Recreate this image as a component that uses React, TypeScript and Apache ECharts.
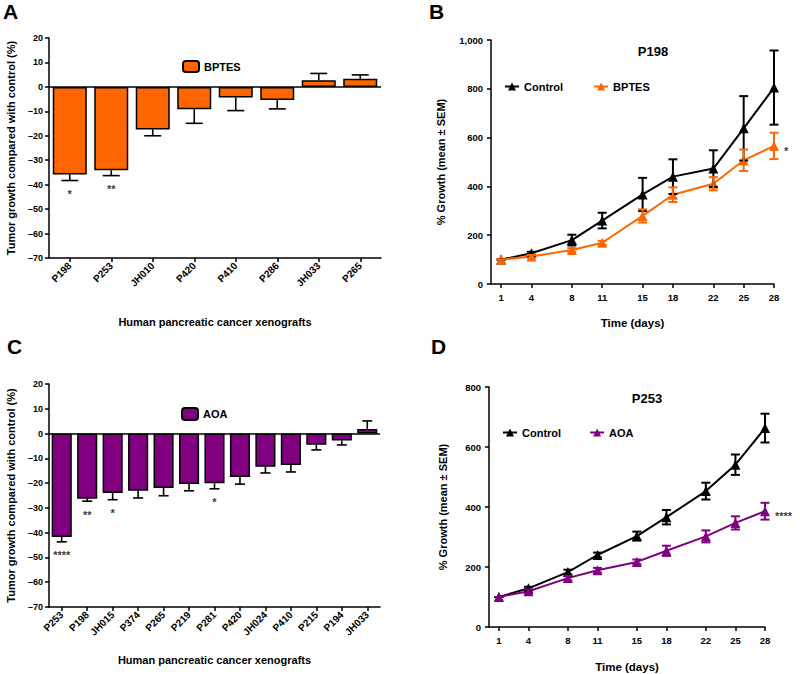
import React, { useEffect, useRef } from "react";
import * as echarts from "echarts";

const FONT = "'Liberation Sans', Arial, Helvetica, sans-serif";
const ORANGE = "#FF6600";
const PURPLE = "#800080";

// Panel A
const catsA = ["P198", "P253", "JH010", "P420", "P410", "P286", "JH033", "P265"];
const meanA = [-35.8, -34.1, -17.4, -9.1, -4.3, -5.4, 2.7, 3.3];
const errEndA = [-38.3, -36.3, -20.0, -14.9, -9.7, -9.0, 5.5, 4.9];
const sigA = ["*", "**", "", "", "", "", "", ""];

// Panel C
const catsC = ["P253", "P198", "JH015", "P374", "P265", "P219", "P281", "P420", "JH024", "P410", "P215", "P194", "JH033"];
const meanC = [-41.7, -26.3, -24.0, -23.1, -22.0, -20.4, -20.1, -17.5, -13.4, -12.7, -4.5, -2.8, 1.8];
const errEndC = [-43.7, -27.3, -26.7, -26.0, -25.1, -23.1, -22.3, -20.4, -15.9, -15.5, -6.6, -4.6, 5.1];
const sigC = ["****", "**", "*", "", "", "", "*", "", "", "", "", "", ""];

// Panels B and D
const days = [1, 4, 8, 11, 15, 18, 22, 25, 28];
const ctrlB = [100, 126, 180, 260, 367, 440, 473, 638, 805];
const ctrlBSem = [0, 6, 22, 32, 68, 71, 75, 132, 152];
const bptesB = [100, 113, 139, 169, 279, 366, 411, 507, 566];
const bptesBSem = [0, 6, 8, 8, 27, 30, 27, 44, 54];
const sigB = "*";
const ctrlD = [100, 129, 183, 240, 303, 366, 453, 541, 663];
const ctrlDSem = [0, 5, 8, 8, 15, 24, 28, 34, 48];
const aoaD = [100, 119, 163, 189, 217, 254, 302, 347, 386];
const aoaDSem = [0, 6, 8, 8, 8, 17, 20, 22, 28];
const sigD = "****";

const txt = (size: number, extra: any = {}) => ({
  fontFamily: FONT,
  fontWeight: "bold",
  fontSize: size,
  color: "#000",
  ...extra,
});

const axisLineStyle = { show: true, lineStyle: { color: "#000", width: 1.5 } };
const axisTickStyle = { show: true, length: 4, lineStyle: { color: "#000", width: 1.5 } };

const dashFmt = (v: number) => (v < 0 ? "\u2013" + Math.abs(v) : String(v));
const commaFmt = (v: number) => v.toLocaleString("en-US");

const barErr = (ratio: number) => (params: any, api: any) => {
  const i = api.value(0);
  const m = api.value(1);
  const e = api.value(2);
  const a = api.coord([i, m]);
  const b = api.coord([i, e]);
  const half = (api.size([1, 0])[0] * ratio) / 4;
  const st = { stroke: "#000", lineWidth: 1.6 };
  return {
    type: "group",
    children: [
      { type: "line", shape: { x1: a[0], y1: a[1], x2: b[0], y2: b[1] }, style: st },
      { type: "line", shape: { x1: b[0] - half, y1: b[1], x2: b[0] + half, y2: b[1] }, style: st },
    ],
  };
};

const lineErr = (color: string) => (params: any, api: any) => {
  const x = api.value(0);
  const m = api.value(1);
  const s = api.value(2);
  const t = api.coord([x, m + s]);
  const b = api.coord([x, m - s]);
  const h = 4.5;
  const st = { stroke: color, lineWidth: 2 };
  return {
    type: "group",
    children: [
      { type: "line", shape: { x1: t[0], y1: t[1], x2: b[0], y2: b[1] }, style: st },
      { type: "line", shape: { x1: t[0] - h, y1: t[1], x2: t[0] + h, y2: t[1] }, style: st },
      { type: "line", shape: { x1: b[0] - h, y1: b[1], x2: b[0] + h, y2: b[1] }, style: st },
    ],
  };
};

const barPanel = (
  idx: number,
  name: string,
  color: string,
  cats: string[],
  mean: number[],
  errEnd: number[],
  sig: string[],
  gap: string,
  ratio: number
) => [
  {
    name,
    type: "bar",
    xAxisIndex: idx,
    yAxisIndex: idx,
    data: mean,
    barCategoryGap: gap,
    itemStyle: { color, borderColor: "#000", borderWidth: 1.5 },
    markLine: {
      silent: true,
      symbol: ["none", "none"],
      label: { show: false },
      lineStyle: { color: "#000", width: 1.5, type: "solid" },
      data: [{ yAxis: 0 }],
    },
    z: 2,
  },
  {
    type: "custom",
    xAxisIndex: idx,
    yAxisIndex: idx,
    renderItem: barErr(ratio),
    encode: { x: 0, y: [1, 2] },
    data: cats.map((c, i) => [i, mean[i], errEnd[i]]),
    z: 3,
  },
  {
    type: "scatter",
    xAxisIndex: idx,
    yAxisIndex: idx,
    symbolSize: 0,
    silent: true,
    data: cats
      .map((c, i) => ({ value: [i, errEnd[i]], s: sig[i] }))
      .filter((d) => d.s !== "")
      .map((d) => ({ value: d.value, label: { formatter: d.s } })),
    label: {
      show: true,
      position: "bottom",
      distance: 8,
      ...txt(11),
    },
  },
];

const linePanel = (
  idx: number,
  names: [string, string],
  colors: [string, string],
  a: number[],
  aSem: number[],
  b: number[],
  bSem: number[],
  sig: string
) => [
  {
    name: names[0],
    type: "line",
    xAxisIndex: idx,
    yAxisIndex: idx,
    data: days.map((d, i) => [d, a[i]]),
    symbol: "triangle",
    symbolSize: 10,
    lineStyle: { color: colors[0], width: 2 },
    itemStyle: { color: colors[0] },
    z: 3,
  },
  {
    type: "custom",
    xAxisIndex: idx,
    yAxisIndex: idx,
    renderItem: lineErr(colors[0]),
    encode: { x: 0, y: 1 },
    data: days.map((d, i) => [d, a[i], aSem[i]]),
    z: 4,
  },
  {
    name: names[1],
    type: "line",
    xAxisIndex: idx,
    yAxisIndex: idx,
    data: days.map((d, i) => [d, b[i]]),
    symbol: "triangle",
    symbolSize: 10,
    lineStyle: { color: colors[1], width: 2 },
    itemStyle: { color: colors[1] },
    z: 3,
  },
  {
    type: "custom",
    xAxisIndex: idx,
    yAxisIndex: idx,
    renderItem: lineErr(colors[1]),
    encode: { x: 0, y: 1 },
    data: days.map((d, i) => [d, b[i], bSem[i]]),
    z: 4,
  },
  {
    type: "scatter",
    xAxisIndex: idx,
    yAxisIndex: idx,
    symbolSize: 0,
    silent: true,
    clip: false,
    data: [[days[days.length - 1], b[b.length - 1]]],
    label: {
      show: true,
      position: "right",
      distance: 10,
      offset: [0, 5],
      formatter: sig,
      ...txt(11),
    },
  },
];

const catX = (idx: number, cats: string[], nameGap: number) => ({
  type: "category",
  gridIndex: idx,
  data: cats,
  boundaryGap: true,
  axisLine: { ...axisLineStyle, onZero: false },
  axisTick: { ...axisTickStyle, alignWithLabel: true },
  axisLabel: { ...txt(10), rotate: 45, margin: 6, interval: 0 },
  name: "Human pancreatic cancer xenografts",
  nameLocation: "middle",
  nameGap,
  nameTextStyle: txt(11),
});

const barY = (idx: number, nameGap: number) => ({
  type: "value",
  gridIndex: idx,
  min: -70,
  max: 20,
  interval: 10,
  splitLine: { show: false },
  axisLine: axisLineStyle,
  axisTick: axisTickStyle,
  axisLabel: { ...txt(9), margin: 6, formatter: dashFmt },
  name: "Tumor growth compared with control (%)",
  nameLocation: "middle",
  nameGap,
  nameTextStyle: txt(11),
});

const timeX = (idx: number, nameGap: number) => ({
  type: "value",
  gridIndex: idx,
  min: 0,
  max: 28,
  splitLine: { show: false },
  axisLine: { ...axisLineStyle, onZero: false },
  axisTick: { ...axisTickStyle, customValues: days },
  axisLabel: { ...txt(9.5), margin: 8, customValues: days },
  name: "Time (days)",
  nameLocation: "middle",
  nameGap,
  nameTextStyle: txt(11.5),
});

const growthY = (idx: number, max: number, nameGap: number) => ({
  type: "value",
  gridIndex: idx,
  min: 0,
  max,
  interval: 200,
  splitLine: { show: false },
  axisLine: axisLineStyle,
  axisTick: axisTickStyle,
  axisLabel: { ...txt(9.5), margin: 8, formatter: commaFmt },
  name: "% Growth (mean \u00B1 SEM)",
  nameLocation: "middle",
  nameGap,
  nameTextStyle: txt(11),
});

const legendFmt = (n: string) => n.replace(/ \([A-Z]\)$/, "");

export default function App() {
  const ref = useRef<HTMLDivElement>(null);
  useEffect(() => {
    if (!ref.current) return;
    const chart = echarts.init(ref.current, undefined, { renderer: "svg" });
    const option: any = {
      animation: false,
      backgroundColor: "#fff",
      textStyle: { fontFamily: FONT },
      grid: [
        { left: 49, top: 38, width: 332, height: 220 },
        { left: 491, top: 40, width: 283, height: 244 },
        { left: 49, top: 384, width: 331, height: 223 },
        { left: 489, top: 387, width: 276, height: 240 },
      ],
      xAxis: [catX(0, catsA, 58), timeX(1, 33), catX(2, catsC, 47), timeX(3, 34)],
      yAxis: [barY(0, 33), growthY(1, 1000, 45), barY(2, 33), growthY(3, 800, 41)],
      title: [
        { text: "P198", left: 653, top: 45, textAlign: "center", padding: 0, textStyle: txt(13) },
        { text: "P253", left: 647, top: 392, textAlign: "center", padding: 0, textStyle: txt(13) },
      ],
      legend: [
        {
          left: 182, top: 60, padding: 0, itemWidth: 16, itemHeight: 11, selectedMode: false,
          data: ["BPTES"], textStyle: txt(11),
        },
        {
          left: 504, top: 81, padding: 0, itemWidth: 14, itemHeight: 10, itemGap: 30, selectedMode: false,
          data: ["Control (B)", "BPTES (B)"], formatter: legendFmt, textStyle: txt(11),
        },
        {
          left: 181, top: 407, padding: 0, itemWidth: 16, itemHeight: 12, selectedMode: false,
          data: ["AOA"], textStyle: txt(11),
        },
        {
          left: 502, top: 427, padding: 0, itemWidth: 14, itemHeight: 10, itemGap: 28, selectedMode: false,
          data: ["Control (D)", "AOA (D)"], formatter: legendFmt, textStyle: txt(11),
        },
      ],
      graphic: [
        { type: "text", left: 3, top: 1, style: { text: "A", ...txt(21), fill: "#000" } },
        { type: "text", left: 429, top: 1, style: { text: "B", ...txt(21), fill: "#000" } },
        { type: "text", left: 7, top: 336, style: { text: "C", ...txt(21), fill: "#000" } },
        { type: "text", left: 431, top: 336, style: { text: "D", ...txt(21), fill: "#000" } },
      ],
      series: [
        ...barPanel(0, "BPTES", ORANGE, catsA, meanA, errEndA, sigA, "18%", 0.82),
        ...linePanel(1, ["Control (B)", "BPTES (B)"], ["#000", ORANGE], ctrlB, ctrlBSem, bptesB, bptesBSem, sigB),
        ...barPanel(2, "AOA", PURPLE, catsC, meanC, errEndC, sigC, "21%", 0.79),
        ...linePanel(3, ["Control (D)", "AOA (D)"], ["#000", PURPLE], ctrlD, ctrlDSem, aoaD, aoaDSem, sigD),
      ],
    };
    chart.setOption(option);
    return () => chart.dispose();
  }, []);
  return (
    <div
      ref={ref}
      style={{ position: "absolute", left: 0, top: 0, width: 800, height: 674, background: "#fff" }}
    />
  );
}
